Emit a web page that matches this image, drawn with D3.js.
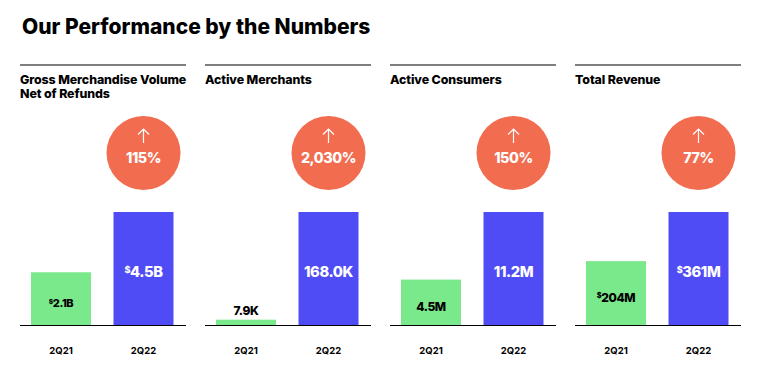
<!DOCTYPE html>
<html>
<head>
<meta charset="utf-8">
<script src="https://cdn.jsdelivr.net/npm/d3@7"></script>
<style>
	html, body { margin: 0; padding: 0; background: #fff; }
	svg { display: block; }
	text { font-family: Inter, "Open Sans", sans-serif; font-weight: 700; }
	text.title { font-weight: 800; }
	text.value, text.change { font-weight: 800; letter-spacing: -0.4px; }
	text.metric { font-weight: 800; letter-spacing: -0.1px; }
</style>
</head>
<body>
<div id="chart"></div>
<script>
'use strict';

const chartTitle = "Our Performance by the Numbers";
const quarters = ["2Q21", "2Q22"];
const metricNames = [
	["Gross Merchandise Volume", "Net of Refunds"],
	["Active Merchants"],
	["Active Consumers"],
	["Total Revenue"]
];
const changes = ["115%", "2,030%", "150%", "77%"];
const values2Q21 = [2.1, 7.9, 4.5, 204];
const values2Q22 = [4.5, 168.0, 11.2, 361];
const labels2Q21 = ["$2.1B", "7.9K", "4.5M", "$204M"];
const labels2Q22 = ["$4.5B", "168.0K", "11.2M", "$361M"];

const width = 768, height = 374;
const panelW = 166, panelStep = 185, panelLeft = 20;
const ruleY = 65, baseY = 325, barTop = 212;
const GREEN = "#7ae98c", BLUE = "#4f4cf5", CORAL = "#f26c50";

const svg = d3.select("#chart").append("svg")
	.attr("width", width)
	.attr("height", height);

svg.append("text")
	.attr("class", "title")
	.attr("x", 22)
	.attr("y", 34)
	.attr("font-size", 21)
	.attr("fill", "#000")
	.text(chartTitle);

// one panel per metric, each with its own y scale
const panelX = d3.scaleLinear().domain([0, 1]).range([panelLeft, panelLeft + panelStep]);

// value label with the small raised dollar sign
function valueLabel(sel, label, size) {
	const hasDollar = label[0] === "$";
	if (hasDollar) {
		sel.append("tspan")
			.attr("font-size", size * 0.62)
			.attr("dy", -size * 0.3)
			.text("$");
	}
	sel.append("tspan")
		.attr("font-size", size)
		.attr("dy", hasDollar ? size * 0.3 : 0)
		.text(hasDollar ? label.slice(1) : label);
}

metricNames.forEach((name, i) => {
	const g = svg.append("g")
		.attr("transform", `translate(${panelX(i)},0)`);

	const x = d3.scaleBand()
		.domain(quarters)
		.range([11, 153.5])
		.paddingInner(22.5 / 82.5)
		.paddingOuter(0);

	const y = d3.scaleLinear()
		.domain([0, values2Q22[i]])
		.range([baseY, barTop]);

	g.append("line")
		.attr("x1", 0)
		.attr("x2", panelW)
		.attr("y1", ruleY)
		.attr("y2", ruleY)
		.attr("stroke", "#7f7f7f")
		.attr("stroke-width", 1.8);

	g.selectAll("text.metric")
		.data(name)
		.join("text")
			.attr("class", "metric")
			.attr("x", 0)
			.attr("y", (d, k) => 84 + k * 14)
			.attr("font-size", 12.4)
			.attr("fill", "#000")
			.text(d => d);

	const rows = [
		{ q: quarters[0], v: values2Q21[i], label: labels2Q21[i], fill: GREEN },
		{ q: quarters[1], v: values2Q22[i], label: labels2Q22[i], fill: BLUE }
	];

	g.selectAll("rect")
		.data(rows)
		.join("rect")
			.attr("x", d => x(d.q))
			.attr("y", d => y(d.v))
			.attr("width", x.bandwidth())
			.attr("height", d => baseY - y(d.v))
			.attr("fill", d => d.fill);

	rows.forEach((d, k) => {
		const h = baseY - y(d.v);
		const size = k === 1 ? 14.7 : (i === 0 ? 11 : 12);
		const inside = h > 20;
		const t = g.append("text")
			.attr("class", "value")
			.attr("x", x(d.q) + x.bandwidth() / 2)
			.attr("y", inside ? y(d.v) + h / 2 + 8.5 : y(d.v) - 5)
			.attr("text-anchor", "middle")
			.attr("fill", k === 1 ? "#fff" : "#000");
		valueLabel(t, d.label, size);
	});

	const xAxis = d3.axisBottom(x).tickSize(0).tickPadding(0);
	const axis = g.append("g")
		.attr("transform", `translate(0,${baseY})`)
		.call(xAxis);
	// baseline runs the full panel width, not only the band range
	axis.select(".domain")
		.attr("d", `M0,0.5H${panelW}`)
		.attr("stroke", "#000")
		.attr("stroke-width", 1.2);
	axis.selectAll("text")
		.attr("y", 29)
		.attr("dy", 0)
		.attr("font-size", 9.5)
		.attr("font-family", null)
		.attr("fill", "#000");

	// growth badge sits above the 2Q22 bar
	const cx = x(quarters[1]) + x.bandwidth() / 2;
	const badge = g.append("g")
		.attr("transform", `translate(${cx},153)`);
	badge.append("circle")
		.attr("r", 37)
		.attr("fill", CORAL);
	badge.append("path")
		.attr("d", "M0,-10V-24M-5.5,-18.5L0,-24L5.5,-18.5")
		.attr("fill", "none")
		.attr("stroke", "#fff")
		.attr("stroke-width", 1.2);
	badge.append("text")
		.attr("class", "change")
		.attr("y", 10)
		.attr("text-anchor", "middle")
		.attr("font-size", 14.3)
		.attr("fill", "#fff")
		.text(changes[i]);
});
</script>
</body>
</html>
